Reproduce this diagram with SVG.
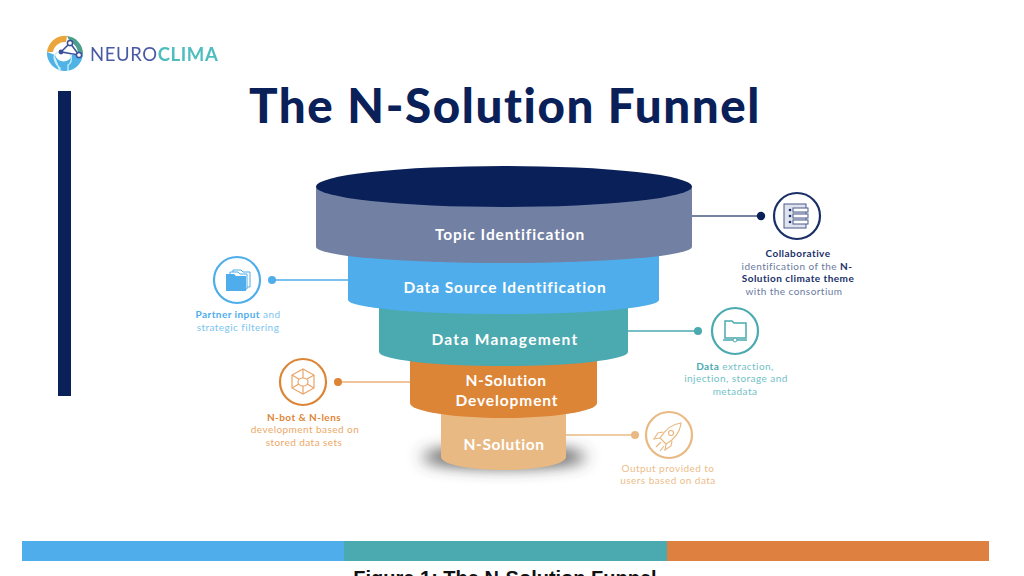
<svg xmlns="http://www.w3.org/2000/svg" width="1024" height="576" viewBox="0 0 1024 576">
<style>
text{font-family:"Lato","Liberation Sans",sans-serif}
.c{text-anchor:middle}
.t{font-size:15.5px;font-weight:700;fill:#fff;letter-spacing:.9px;text-anchor:middle}
.s{font-size:10px;letter-spacing:.45px;text-anchor:middle}
.b{font-weight:700}
.ring{fill:#fff;stroke-width:2.2}
.l{stroke-width:1.4;fill:none}
</style>
<defs>
<filter id="blur" x="-40%" y="-150%" width="180%" height="400%"><feGaussianBlur stdDeviation="8"/></filter>
<filter id="soft" x="-5%" y="-5%" width="110%" height="110%"><feGaussianBlur stdDeviation=".35"/></filter>
</defs>
<rect width="1024" height="576" fill="#fff"/>
<g id="logo" filter="url(#soft)">
<path d="M47,52A18,18 0 0 0 83,54L72,55C70,63 58,64 55,55Z" fill="#4fb3e6"/>
<path d="M47,52A18,18 0 0 1 67,36L66,42A12,12 0 0 0 53,52Z" fill="#eaa53a"/>
<path d="M67,36A18,18 0 0 1 83,54L78,54A12,12 0 0 0 70,42Z" fill="#4d9e8f"/>
<path d="M54,56C57,50 68,50 71,56C72,61 70,64 68,65V71M60,71V68C57,66 54,61 54,56Z" fill="none" stroke="#cdeefa" stroke-width="1.3"/>
<path d="M61,52L70,43L79,55Z" fill="none" stroke="#3d4f9b" stroke-width="1.5"/>
<circle cx="61" cy="52" r="2.4" fill="#3d4f9b"/><circle cx="70" cy="43" r="2.6" fill="#fff" stroke="#3d4f9b" stroke-width="1.5"/><circle cx="79" cy="55" r="2.6" fill="#fff" stroke="#3d4f9b" stroke-width="1.5"/>
<text x="90" y="61" font-size="18.5" letter-spacing=".6" fill="#4a5aa5">NEURO<tspan fill="#4dbdbd" font-weight="700">CLIMA</tspan></text>
</g>
<rect id="side-bar" x="58" y="91" width="13" height="305" fill="#0a2058"/>
<text id="title" x="505" y="123" class="c" font-size="47.500" font-weight="900" letter-spacing="1.600" fill="#0a2058">The N-Solution Funnel</text>
<g id="connectors">
<path class="l" d="M692,216H761" stroke="#0a2058" stroke-opacity=".75"/><circle cx="761" cy="216" r="4.200" fill="#0a2058"/>
<path class="l" d="M272,280H348" stroke="#4eadea"/><circle cx="272" cy="280" r="4" fill="#4eadea"/>
<path class="l" d="M628,331H698" stroke="#4ba9b0"/><circle cx="698" cy="331" r="4" fill="#4ba9b0"/>
<path class="l" d="M338,382H410" stroke="#edb27a"/><circle cx="338" cy="382" r="4" fill="#dd8536"/>
<path class="l" d="M566,435H635" stroke="#eabb85"/><circle cx="635" cy="435" r="4" fill="#e9b983"/>
</g>
<ellipse id="shadow" cx="504" cy="457" rx="82" ry="10" fill="#444" filter="url(#blur)"/>
<g id="n-solution">
<path d="M441,400V457A62.500,13 0 0 0 566,457V400Z" fill="#e9b983"/>
<text x="504" y="450" class="t" style="letter-spacing:.6px">N-Solution</text>
</g>
<g id="n-solution-development">
<path d="M410,350V403A93.500,15 0 0 0 597,403V350Z" fill="#dd8536"/>
<text x="506" y="386" class="t" style="letter-spacing:.6px">N-Solution</text>
<text x="507" y="406" class="t">Development</text>
</g>
<g id="data-management">
<path d="M379,300V352A124.500,14 0 0 0 628,352V300Z" fill="#4ba9b0"/>
<text x="505" y="345" class="t" style="letter-spacing:1.3px">Data Management</text>
</g>
<g id="data-source-identification">
<path d="M348,250V300A155.500,14 0 0 0 659,300V250Z" fill="#4eadea"/>
<text x="505" y="293" class="t">Data Source Identification</text>
</g>
<g id="topic-identification">
<path d="M316,186V247A188,16 0 0 0 692,247V186Z" fill="#7280a3"/>
<ellipse cx="504" cy="186.500" rx="188" ry="20.500" fill="#0a2058"/>
<text x="510" y="240" class="t">Topic Identification</text>
</g>
<g id="note-topic">
<circle class="ring" cx="797" cy="216" r="23" stroke="#1a2f68"/>
<g stroke="#4a5a8a" stroke-width="1"><rect x="784" y="204" width="22" height="24" fill="#dfe3ee"/><rect x="793" y="208" width="15" height="4" fill="#fff"/><rect x="793" y="214" width="15" height="4" fill="#fff"/><rect x="793" y="220" width="15" height="4" fill="#fff"/></g>
<g fill="#1a2f68"><circle cx="790" cy="210" r="1.300"/><circle cx="790" cy="216" r="1.300"/><circle cx="790" cy="222" r="1.300"/></g>
<text x="798" y="257" class="s b" fill="#1a2f68">Collaborative</text>
<text x="797" y="270" class="s" fill="#6a7aa0">identification of the <tspan class="b" fill="#1a2f68">N-</tspan></text>
<text x="798" y="282" class="s b" fill="#1a2f68">Solution climate theme</text>
<text x="794" y="295" class="s" fill="#6a7aa0">with the consortium</text>
</g>
<g id="note-partner">
<circle class="ring" cx="237" cy="280" r="23" stroke="#4eadea"/>
<path d="M233,270h8l2,2h7v15h-17z" fill="#fff" stroke="#4eadea"/><path d="M230,272h8l2,2h7v15h-17z" fill="#fff" stroke="#4eadea"/><path d="M226,274h8l2,2h10v15h-20z" fill="#4eadea"/>
<text x="238" y="318" class="s" fill="#7cc4ee"><tspan class="b" fill="#4eadea">Partner input</tspan> and</text>
<text x="238" y="331" class="s" fill="#7cc4ee">strategic filtering</text>
</g>
<g id="note-data">
<circle class="ring" cx="735" cy="331" r="23" stroke="#4ba9b0"/>
<path d="M725,338v-17h7l2,2h12v15z" fill="#fff" stroke="#4ba9b0" stroke-width="1.500"/><path d="M735,338v3M723,340h24" stroke="#4ba9b0" stroke-width="1.500"/><circle cx="735" cy="340" r="2" fill="#fff" stroke="#4ba9b0"/>
<text x="735" y="370" class="s" fill="#72c1c6"><tspan class="b" fill="#4ba9b0">Data</tspan> extraction,</text>
<text x="736" y="382" class="s" fill="#72c1c6">injection, storage and</text>
<text x="735" y="395" class="s" fill="#72c1c6">metadata</text>
</g>
<g id="note-nbot">
<circle class="ring" cx="303" cy="382" r="23" stroke="#dd8536"/>
<g fill="none" stroke="#e9a468" stroke-width="1.200"><path d="M303,369L314,375V388L303,394L292,388V375Z"/><path d="M303,369V394M292,375L314,388M314,375L292,388"/><ellipse cx="303" cy="382" rx="5" ry="4" fill="#fff"/></g>
<text x="304" y="421" class="s b" fill="#dd8536">N-bot &amp; N-lens</text>
<text x="305" y="433" class="s" fill="#eba866">development based on</text>
<text x="304" y="446" class="s" fill="#eba866">stored data sets</text>
</g>
<g id="note-output">
<circle class="ring" cx="669" cy="435" r="23" stroke="#e9b983"/>
<g fill="none" stroke="#e9b983" stroke-width="1.200"><path d="M681,423C672,424 665,430 660,438L666,444C674,440 680,432 681,423Z"/><circle cx="671" cy="433" r="2.500"/><path d="M660,438L654,439L658,433L663,432M666,444L665,450L671,446L672,441M656,447L661,442M660,451L664,446"/></g>
<text x="668" y="472" class="s" fill="#edbd8a">Output provided to</text>
<text x="668" y="484" class="s" fill="#edbd8a">users based on data</text>
</g>
<g id="footer-bar">
<rect x="22" y="541" width="322" height="20" fill="#4eadea"/>
<rect x="344" y="541" width="323" height="20" fill="#4ba9b0"/>
<rect x="667" y="541" width="322" height="20" fill="#dd8040"/>
</g>
<text id="caption" x="505" y="585" class="c" font-size="20" font-weight="700" fill="#111" style="font-family:'Liberation Sans',sans-serif">Figure 1: The N-Solution Funnel</text>
</svg>
